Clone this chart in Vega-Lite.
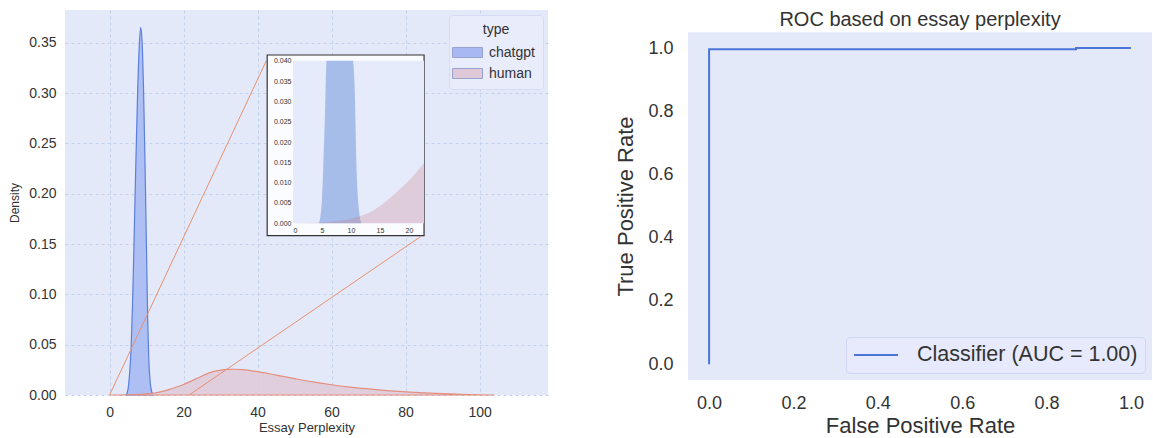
{
  "$schema": "https://vega.github.io/schema/vega-lite/v6.json",
  "background": "white",
  "padding": {"left": 8, "top": 10, "right": 0, "bottom": 0},
  "spacing": 66,
  "resolve": {"scale": {"color": "independent", "stroke": "independent"}, "legend": {"color": "independent", "stroke": "independent"}},
  "config": {
    "font": "Liberation Sans",
    "view": {"stroke": null, "fill": "#e4e9fa"},
    "axis": {"domain": false, "ticks": false, "labelColor": "#333333", "titleColor": "#333333", "titleFontWeight": "normal", "labelFont": "Liberation Sans", "titleFont": "Liberation Sans"},
    "legend": {"labelFont": "Liberation Sans", "titleFont": "Liberation Sans"}
  },
  "datasets": {
    "kde": [
      {"type": "chatgpt", "perplexity": 4.5, "density": 0},
      {"type": "chatgpt", "perplexity": 5.0, "density": 0.006},
      {"type": "chatgpt", "perplexity": 5.5, "density": 0.026},
      {"type": "chatgpt", "perplexity": 5.8, "density": 0.045},
      {"type": "chatgpt", "perplexity": 6.2, "density": 0.09},
      {"type": "chatgpt", "perplexity": 6.6, "density": 0.15},
      {"type": "chatgpt", "perplexity": 7.0, "density": 0.215},
      {"type": "chatgpt", "perplexity": 7.5, "density": 0.29},
      {"type": "chatgpt", "perplexity": 8.0, "density": 0.345},
      {"type": "chatgpt", "perplexity": 8.4, "density": 0.365},
      {"type": "chatgpt", "perplexity": 8.8, "density": 0.35},
      {"type": "chatgpt", "perplexity": 9.2, "density": 0.3},
      {"type": "chatgpt", "perplexity": 9.6, "density": 0.225},
      {"type": "chatgpt", "perplexity": 10.0, "density": 0.14},
      {"type": "chatgpt", "perplexity": 10.3, "density": 0.075},
      {"type": "chatgpt", "perplexity": 10.6, "density": 0.035},
      {"type": "chatgpt", "perplexity": 11.0, "density": 0.012},
      {"type": "chatgpt", "perplexity": 11.4, "density": 0.003},
      {"type": "chatgpt", "perplexity": 11.8, "density": 0},
      {"type": "human", "perplexity": 0, "density": 0},
      {"type": "human", "perplexity": 5, "density": 0.0002},
      {"type": "human", "perplexity": 8, "density": 0.0006},
      {"type": "human", "perplexity": 10, "density": 0.0011},
      {"type": "human", "perplexity": 12, "density": 0.002},
      {"type": "human", "perplexity": 14, "density": 0.0033},
      {"type": "human", "perplexity": 16, "density": 0.0053},
      {"type": "human", "perplexity": 18, "density": 0.0078},
      {"type": "human", "perplexity": 20, "density": 0.0105},
      {"type": "human", "perplexity": 22, "density": 0.0138},
      {"type": "human", "perplexity": 22.6, "density": 0.0148},
      {"type": "human", "perplexity": 24, "density": 0.0172},
      {"type": "human", "perplexity": 26, "density": 0.0205},
      {"type": "human", "perplexity": 28, "density": 0.0232},
      {"type": "human", "perplexity": 30, "density": 0.0248},
      {"type": "human", "perplexity": 32, "density": 0.0255},
      {"type": "human", "perplexity": 34, "density": 0.0256},
      {"type": "human", "perplexity": 36, "density": 0.0252},
      {"type": "human", "perplexity": 38, "density": 0.0243},
      {"type": "human", "perplexity": 40, "density": 0.0232},
      {"type": "human", "perplexity": 45, "density": 0.0198},
      {"type": "human", "perplexity": 50, "density": 0.0163},
      {"type": "human", "perplexity": 55, "density": 0.013},
      {"type": "human", "perplexity": 60, "density": 0.0102},
      {"type": "human", "perplexity": 65, "density": 0.0079},
      {"type": "human", "perplexity": 70, "density": 0.006},
      {"type": "human", "perplexity": 75, "density": 0.0044},
      {"type": "human", "perplexity": 80, "density": 0.0032},
      {"type": "human", "perplexity": 85, "density": 0.0022},
      {"type": "human", "perplexity": 90, "density": 0.0014},
      {"type": "human", "perplexity": 95, "density": 0.0007},
      {"type": "human", "perplexity": 100, "density": 0.0002},
      {"type": "human", "perplexity": 104, "density": 0}
    ],
    "roc": [
      {"i": 0, "fpr": 0, "tpr": 0, "series": "Classifier (AUC = 1.00)"},
      {"i": 1, "fpr": 0, "tpr": 0.996, "series": "Classifier (AUC = 1.00)"},
      {"i": 2, "fpr": 0.87, "tpr": 0.996, "series": "Classifier (AUC = 1.00)"},
      {"i": 3, "fpr": 0.87, "tpr": 1.0, "series": "Classifier (AUC = 1.00)"},
      {"i": 4, "fpr": 1.0, "tpr": 1.0, "series": "Classifier (AUC = 1.00)"}
    ]
  },
  "hconcat": [
    {
      "width": 483,
      "height": 385,
      "resolve": {"scale": {"x": "independent", "y": "independent"}, "axis": {"x": "independent", "y": "independent"}},
      "layer": [
        {
          "layer": [
            {
              "data": {"name": "kde"},
              "mark": {"type": "area", "strokeWidth": 1.2, "interpolate": "monotone", "fillOpacity": 0.88},
              "encoding": {
                "x": {"field": "perplexity", "type": "quantitative",
                  "scale": {"domain": [-12.05, 118.5], "nice": false, "zero": false},
                  "axis": {"orient": "bottom", "values": [0, 20, 40, 60, 80, 100], "labelFontSize": 14, "labelPadding": 10, "title": "Essay Perplexity", "titleFontSize": 13, "titlePadding": 2, "gridColor": "#c3d1ea", "gridDash": [3, 3], "gridWidth": 1}},
                "y": {"field": "density", "type": "quantitative", "stack": null,
                  "scale": {"domain": [0, 0.3825], "nice": false},
                  "axis": {"orient": "left", "values": [0, 0.05, 0.1, 0.15, 0.2, 0.25, 0.3, 0.35], "format": ".2f", "labelFontSize": 14, "labelPadding": 9, "title": "Density", "titleFontSize": 12, "titlePadding": 7, "gridColor": "#c3d1ea", "gridDash": [3, 3], "gridWidth": 1}},
                "color": {"field": "type", "type": "nominal",
                  "scale": {"domain": ["chatgpt", "human"], "range": ["#a6baf1", "#dfc9d8"]},
                  "legend": {"orient": "top-right", "offset": 5, "title": "type", "titleFontSize": 14, "titleFontWeight": "normal", "titleColor": "#333333", "titleAnchor": "middle", "titleAlign": "center", "labelFontSize": 14, "labelColor": "#333333", "symbolType": "M-1.5,-0.5H1.5V0.5H-1.5Z", "symbolSize": 400, "symbolStrokeWidth": 1, "symbolStrokeColor": "#9aa3cf", "labelOffset": 11, "rowPadding": 3, "padding": 8, "fillColor": "#e8ecfb", "strokeColor": "#d6dcf3", "cornerRadius": 3}},
                "stroke": {"condition": {"test": "datum.type === 'chatgpt'", "value": "#5b7fdc"}, "value": "#e3907f"}
              }
            },
            {
              "data": {"values": [{}]},
              "mark": {"type": "rule", "color": "#e8906f", "strokeWidth": 1},
              "encoding": {"x": {"datum": 0}, "y": {"datum": 0}, "x2": {"datum": 42.35}, "y2": {"datum": 0.332}}
            },
            {
              "data": {"values": [{}]},
              "mark": {"type": "rule", "color": "#e8906f", "strokeWidth": 1},
              "encoding": {"x": {"datum": 21.5}, "y": {"datum": 0}, "x2": {"datum": 84.05}, "y2": {"datum": 0.1573}}
            },
            {
              "data": {"values": [{}]},
              "mark": {"type": "rect", "fill": "#fbfcff", "stroke": "#333333", "strokeWidth": 1.2},
              "encoding": {"x": {"datum": 42.6}, "x2": {"datum": 85.0}, "y": {"datum": 0.1583}, "y2": {"datum": 0.3378}}
            }
          ]
        },
        {
          "layer": [
            {
              "data": {"values": [{}]},
              "mark": {"type": "rect", "fill": "#e6ebfb"},
              "encoding": {
                "x": {"datum": 0, "type": "quantitative",
                  "scale": {"domain": [0, 22.6], "range": [228, 359], "nice": false, "zero": false, "clamp": true},
                  "axis": {"orient": "bottom", "offset": -171.7, "zindex": 2, "values": [0, 5, 10, 15, 20], "labelFontSize": 7, "labelPadding": 3, "title": null, "grid": false}},
                "x2": {"datum": 22.6},
                "y": {"datum": 0, "type": "quantitative",
                  "scale": {"domain": [0, 0.04], "range": [213.3, 50.7], "nice": false, "clamp": true},
                  "axis": {"orient": "left", "offset": -228, "zindex": 2, "values": [0, 0.005, 0.01, 0.015, 0.02, 0.025, 0.03, 0.035, 0.04], "format": ".3f", "labelFontSize": 7, "labelPadding": 2, "title": null, "grid": false}},
                "y2": {"datum": 0.04}
              }
            },
            {
              "data": {"name": "kde"},
              "transform": [{"filter": "datum.type == 'chatgpt' && datum.perplexity <= 22.6"}],
              "mark": {"type": "area", "fill": "#4878d0", "fillOpacity": 0.4, "interpolate": "monotone"},
              "encoding": {
                "x": {"field": "perplexity", "type": "quantitative"},
                "y": {"field": "density", "type": "quantitative", "stack": null}
              }
            },
            {
              "data": {"name": "kde"},
              "transform": [{"filter": "datum.type == 'human' && datum.perplexity <= 22.6"}],
              "mark": {"type": "area", "fill": "#c8707a", "fillOpacity": 0.25, "interpolate": "monotone"},
              "encoding": {
                "x": {"field": "perplexity", "type": "quantitative"},
                "y": {"field": "density", "type": "quantitative", "stack": null}
              }
            }
          ]
        }
      ]
    },
    {
      "width": 464,
      "height": 370,
      "view": {"fill": null},
      "title": {"text": "ROC based on essay perplexity", "fontSize": 20, "fontWeight": "normal", "color": "#333333", "offset": -20, "frame": "group", "anchor": "middle"},
      "layer": [
        {
          "data": {"values": [{}]},
          "mark": {"type": "rect", "fill": "#e4e9fa"},
          "encoding": {
            "x": {"datum": -0.05, "type": "quantitative",
              "scale": {"domain": [-0.05, 1.05], "nice": false, "zero": false},
              "axis": {"values": [0, 0.2, 0.4, 0.6, 0.8, 1], "format": ".1f", "labelFontSize": 18, "labelPadding": 14, "title": "False Positive Rate", "titleFontSize": 22, "titlePadding": 3, "gridColor": "#bcdde5", "gridDash": [4, 3], "gridWidth": 1}},
            "x2": {"datum": 1.05},
            "y": {"datum": -0.05, "type": "quantitative",
              "scale": {"domain": [-0.05, 1.05], "nice": false, "zero": false, "range": [370, 22.3]},
              "axis": {"values": [0, 0.2, 0.4, 0.6, 0.8, 1], "format": ".1f", "labelFontSize": 18, "labelPadding": 15, "title": "True Positive Rate", "titleFontSize": 22, "titlePadding": 10, "titleY": 196, "gridColor": "#bcdde5", "gridDash": [4, 3], "gridWidth": 1}},
            "y2": {"datum": 1.05}
          }
        },
        {
          "data": {"name": "roc"},
          "mark": {"type": "line", "strokeWidth": 2, "interpolate": "linear"},
          "encoding": {
            "x": {"field": "fpr", "type": "quantitative"},
            "y": {"field": "tpr", "type": "quantitative"},
            "order": {"field": "i", "type": "quantitative"},
            "stroke": {"field": "series", "type": "nominal",
              "scale": {"range": ["#4a74d8"]},
              "legend": {"orient": "bottom-right", "offset": 7, "title": null, "labelFontSize": 21.5, "labelColor": "#333333", "labelLimit": 0, "symbolType": "M-1,0H3.4", "symbolSize": 400, "symbolStrokeWidth": 2, "labelOffset": 42, "padding": 7, "fillColor": "#e6eafc", "strokeColor": "#d0d7f4", "cornerRadius": 4}}
          }
        }
      ]
    }
  ]
}
